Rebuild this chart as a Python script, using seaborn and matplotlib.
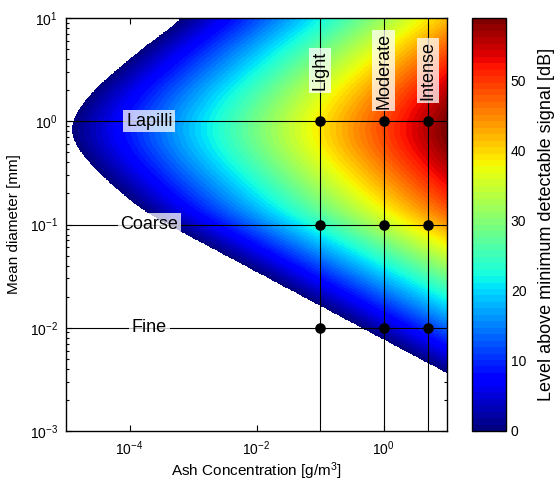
import numpy as np
import pandas as pd
import matplotlib
matplotlib.use("Agg")
import matplotlib.pyplot as plt
import matplotlib.ticker as mticker
import seaborn as sns

# ---- data ----
# signal level profile (dB above MDS) at 1 g/m^3 as a function of log10(mean diameter [mm])
profile_logd = [-2.9, -2.44, -2.0, -1.6, -1.1, -0.89, -0.763, -0.63, -0.504, -0.375,
                -0.25, -0.117, 0.0, 0.11, 0.30, 0.50, 0.69, 1.0, 1.2]
profile_db = [-23.5, -10.0, 3.5, 15.7, 31.0, 37.2, 40.0, 42.5, 44.7, 46.7,
              48.3, 49.2, 49.0, 48.1, 45.7, 42.0, 38.3, 31.5, 27.0]

intensity_labels = ["Light", "Moderate", "Intense"]
intensity_conc = [0.1, 1.0, 5.0]          # g/m^3
size_labels = ["Lapilli", "Coarse", "Fine"]
size_diam = [1.0, 0.1, 0.01]              # mm

xlim = (1e-5, 1e1)
ylim = (1e-3, 1e1)
vmin, vmax = 0, 59
xlabel = "Ash Concentration [g/m$^3$]"
ylabel = "Mean diameter [mm]"
cbar_label = "Level above minimum detectable signal [dB]"
cbar_ticks = [0, 10, 20, 30, 40, 50]

# ---- style ----
sns.set_theme(style="white")
plt.rcParams["font.family"] = ["Liberation Sans", "DejaVu Sans"]
plt.rcParams["mathtext.fontset"] = "custom"
plt.rcParams["mathtext.rm"] = "Liberation Sans"
plt.rcParams["mathtext.it"] = "Liberation Sans:italic"
plt.rcParams["mathtext.default"] = "regular"
for key in ["text.color", "axes.labelcolor", "xtick.color", "ytick.color", "axes.edgecolor"]:
    plt.rcParams[key] = "black"

fig = plt.figure(figsize=(5.58, 4.87), dpi=100)
W, H = 558, 487
ax = fig.add_axes([66 / W, 1 - 431 / H, (447 - 66) / W, (431 - 18) / H])
cax = fig.add_axes([472 / W, 1 - 431 / H, (506 - 472) / W, (431 - 18) / H])

# ---- field ----
lx = np.linspace(np.log10(xlim[0]), np.log10(xlim[1]), 700)
ly = np.linspace(np.log10(ylim[0]), np.log10(ylim[1]), 700)
g = np.interp(ly, profile_logd, profile_db)
# light smoothing of the read profile
step = ly[1] - ly[0]
sig = 0.06 / step
k = np.arange(-int(4 * sig), int(4 * sig) + 1)
ker = np.exp(-0.5 * (k / sig) ** 2)
ker /= ker.sum()
gp = np.pad(g, len(k) // 2, mode="edge")
g = np.convolve(gp, ker, mode="valid")
LX, LY = np.meshgrid(lx, ly)
level = 10 * LX + g[:, None]
level = np.ma.masked_less(level, 0)

cmap = plt.get_cmap("jet", 64)
mesh = ax.pcolormesh(10 ** lx, 10 ** ly, level, cmap=cmap, vmin=vmin, vmax=vmax,
                     shading="auto", rasterized=True)

ax.set_xscale("log")
ax.set_yscale("log")
ax.set_xlim(*xlim)
ax.set_ylim(*ylim)

# grid lines
for c in intensity_conc:
    ax.axvline(c, color="black", lw=0.8, zorder=3)
for d in size_diam:
    ax.axhline(d, color="black", lw=0.8, zorder=3)

# intersection dots
pts = pd.DataFrame([(c, d) for c in intensity_conc for d in size_diam], columns=["conc", "diam"])
sns.scatterplot(data=pts, x="conc", y="diam", ax=ax, color="black", s=58,
                edgecolor="black", linewidth=0, zorder=5, legend=False)

box = dict(facecolor="white", alpha=0.75, edgecolor="none", pad=2)
for lab, d in zip(size_labels, size_diam):
    ax.text(2.05e-4, d, lab, ha="center", va="center", fontsize=13, bbox=box, zorder=6)
for lab, c in zip(intensity_labels, intensity_conc):
    ax.text(c, 3.1, lab, ha="center", va="center", rotation=90, fontsize=13, bbox=box, zorder=6)

# ticks
ax.xaxis.set_major_locator(mticker.FixedLocator([1e-4, 1e-2, 1e0]))
ax.xaxis.set_minor_locator(mticker.NullLocator())
ax.yaxis.set_major_locator(mticker.LogLocator(base=10, numticks=10))
ax.yaxis.set_minor_locator(mticker.LogLocator(base=10, subs=np.arange(2, 10), numticks=10))
ax.tick_params(which="both", direction="in", top=True, right=True, bottom=True, left=True,
               color="black", labelcolor="black", labelsize=10, pad=6)
ax.tick_params(which="major", length=4, width=0.8)
ax.tick_params(which="minor", length=2.5, width=0.8)
for s in ax.spines.values():
    s.set_edgecolor("black")
    s.set_linewidth(1.0)
    s.set_visible(True)
ax.set_xlabel(xlabel, fontsize=11, labelpad=2, color="black")
ax.set_ylabel(ylabel, fontsize=11, labelpad=6, color="black")

cb = fig.colorbar(mesh, cax=cax, ticks=cbar_ticks)
cb.outline.set_edgecolor("black")
cb.outline.set_linewidth(1.0)
cax.tick_params(direction="in", length=4, width=0.8, labelsize=10, left=True, right=True,
                color="black", labelcolor="black")
cb.set_label(cbar_label, fontsize=13, labelpad=8, color="black")

fig.savefig("out.png", dpi=100)
